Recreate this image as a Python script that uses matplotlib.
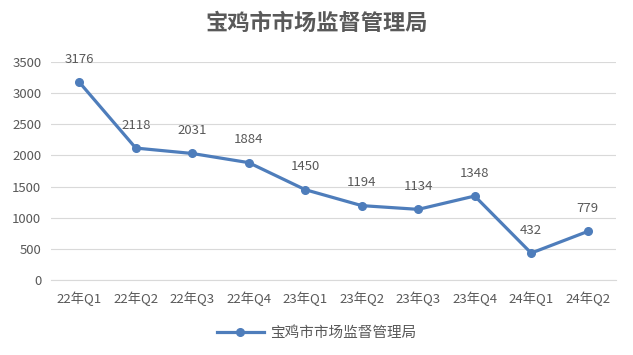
import matplotlib
matplotlib.use('Agg')
import matplotlib.pyplot as plt

plt.rcParams['font.family'] = ['Noto Sans CJK SC', 'DejaVu Sans']

# data
quarters = ['22年Q1', '22年Q2', '22年Q3', '22年Q4', '23年Q1',
            '23年Q2', '23年Q3', '23年Q4', '24年Q1', '24年Q2']
counts = [3176, 2118, 2031, 1884, 1450, 1194, 1134, 1348, 432, 779]
seriesName = '宝鸡市市场监督管理局'
yTicks = [0, 500, 1000, 1500, 2000, 2500, 3000, 3500]

lineColor = '#4E7DBB'
textColor = '#595959'

fig = plt.figure(figsize=(6.33, 3.55), dpi=100)
ax = fig.add_axes([0.0806, 0.2113, 0.8924, 0.6141])

x = list(range(len(quarters)))
ax.plot(x, counts, color=lineColor, linewidth=2.3, marker='o',
        markersize=5.5, label=seriesName, zorder=3)

for xi, v in zip(x, counts):
    ax.annotate(str(v), (xi, v), xytext=(0, 16.5), textcoords='offset points',
                ha='center', va='center', fontsize=9.5, color=textColor,
                annotation_clip=False)

ax.set_xlim(-0.5, len(quarters) - 0.5)
ax.set_ylim(0, 3500)
ax.set_yticks(yTicks)
ax.set_xticks(x)
ax.set_xticklabels(quarters)
ax.yaxis.grid(True, color='#D9D9D9', linewidth=0.8)
ax.set_axisbelow(True)
for s in ['top', 'right', 'left']:
    ax.spines[s].set_visible(False)
ax.spines['bottom'].set_color('#D9D9D9')
ax.tick_params(axis='both', length=0, labelsize=9.5, colors=textColor)
ax.tick_params(axis='x', pad=8)
ax.tick_params(axis='y', pad=7)

fig.text(0.5, 0.935, seriesName, ha='center', va='center', fontsize=16,
         fontweight='bold', color=textColor)

fig.legend(loc='center', bbox_to_anchor=(0.5, 0.062), frameon=False,
           fontsize=10.5, labelcolor=textColor, handlelength=3.2,
           handletextpad=0.4)

fig.savefig('out.png', dpi=100)
